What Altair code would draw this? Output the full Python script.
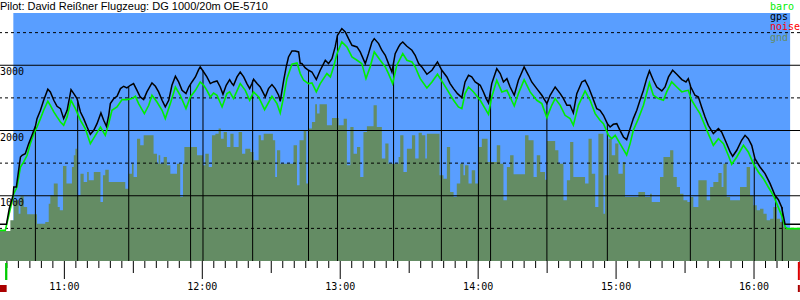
import altair as alt
import pandas as pd

# ---------------- data (time = minutes after midnight, altitude in m) ----------------
gps_time = [632.0, 634.8, 636.0, 637.7, 638.0, 639.1, 640.1, 640.9, 641.6, 643.0, 644.5, 645.9, 647.4, 648.1, 649.6,
            651.0, 652.8, 653.9, 655.4, 656.8, 658.3, 659.7, 661.2, 662.9, 664.1, 665.5, 667.0, 668.4, 669.9, 671.3,
            672.8, 674.2, 675.9, 677.1, 678.3, 679.3, 680.0, 681.5, 682.9, 684.4, 685.8, 687.2, 688.7, 690.1, 691.6,
            693.0, 694.5, 695.9, 698.1, 699.6, 701.0, 702.5, 703.9, 705.4, 706.8, 708.3, 709.7, 711.2, 712.9, 714.1,
            715.5, 717.0, 718.4,
            719.1, 720.6, 722.0, 723.5, 724.9, 726.4, 727.8, 729.0, 730.4, 731.9, 732.9, 733.6, 735.1, 736.5, 738.0,
            739.4, 740.6, 741.6, 742.3, 743.8, 745.2, 747.4, 748.8, 750.3, 751.7, 753.2, 753.9, 755.4, 756.5, 757.5,
            759.0, 760.4, 761.9, 762.6, 763.3, 764.8, 766.2, 767.7, 769.6, 771.3, 773.5, 774.9, 776.4, 777.8, 778.8,
            780.7, 782.2, 783.6, 785.1, 787.3, 788.7, 790.9, 792.3, 793.8, 794.8, 796.7, 798.1, 799.6, 801.0, 802.5,
            803.9, 805.4,
            806.1, 807.2, 809.0, 811.2, 812.6, 814.1, 815.5, 817.7, 819.9, 822.3, 824.2, 826.4, 827.8, 829.3, 831.0,
            832.9, 834.3, 835.8, 837.2, 838.7, 840.9, 842.3, 843.5, 844.5, 845.9, 848.1, 849.6, 851.0, 852.5, 853.9,
            855.7, 857.5, 860.0, 861.9, 863.3, 865.5, 867.7, 869.9, 871.3, 873.5, 875.7, 877.1, 878.6, 880.0, 881.4,
            882.9, 885.1, 886.5, 888.0, 889.4, 891.6, 893.0,
            894.5, 896.2, 897.4, 898.8, 900.3, 901.7, 903.2, 904.6, 906.1, 907.5, 909.0, 910.4, 911.9, 913.3, 914.5,
            916.2, 917.7, 919.9, 921.3, 922.8, 924.6, 926.4, 928.6, 930.4, 931.4, 932.5, 934.3, 935.8, 937.2, 938.7,
            940.1, 942.3, 944.5, 945.9, 947.8, 949.6, 950.7, 952.5, 954.6, 956.1, 957.5, 959.0, 960.4, 962.6, 964.8,
            967.0, 969.1, 970.6, 972.0, 973.5, 980.0]
gps_alt = [562, 562, 800, 1007, 1134, 1134, 1390, 1594, 1620, 1645, 1799, 1926, 2064, 2182, 2310,
           2463, 2632, 2591, 2463, 2371, 2335, 2182, 2310, 2627, 2565, 2489, 2284, 2182, 2054, 1942,
           2003, 2105, 2269, 2156, 2064, 2233, 2412, 2489, 2524, 2642, 2678, 2652, 2693, 2719, 2616,
           2514, 2473, 2591, 2729, 2678, 2591, 2463, 2361, 2463, 2693, 2831, 2744, 2616, 2565, 2667,
           2744, 2821, 2933,
           2974, 2897, 2821, 2719, 2744, 2759, 2667, 2555, 2693, 2780, 2719, 2693, 2821, 2897, 2821,
           2719, 2642, 2719, 2785, 2719, 2667, 2514, 2642, 2703, 2642, 2540, 2448, 2770, 2974, 3127,
           3219, 3219, 3204, 3025, 3025, 2959, 2923, 2897, 2780, 2923, 3076, 3025, 3102, 3281, 3459,
           3562, 3511, 3408, 3306, 3281, 3204, 3025, 3178, 3357, 3408, 3332, 3230, 3153, 3025, 2897,
           3178, 3281,
           3322, 3357, 3291, 3230, 3153, 3025, 2974, 2862, 2923, 3051, 2923, 2821, 2719, 2642, 2565,
           2504, 2744, 2846, 2821, 2744, 2693, 2591, 2489, 2422, 2719, 2948, 2872, 2744, 2795, 2667,
           2540, 2770, 2974, 2846, 2744, 2642, 2540, 2412, 2540, 2667, 2565, 2489, 2386, 2386, 2269,
           2565, 2744, 2770, 2667, 2540, 2335, 2310,
           2233, 2105, 2054, 2095, 2105, 2003, 1901, 1860, 2029, 2182, 2310, 2463, 2616, 2795, 2913,
           2770, 2667, 2606, 2667, 2821, 2923, 2862, 2780, 2744, 2795, 2667, 2540, 2514, 2361, 2208,
           2080, 1952, 2029, 1978, 1824, 1671, 1605, 1697, 1850, 1926, 1875, 1773, 1569, 1441, 1339,
           1186, 1007, 940, 828, 562, 562]

baro_time = [632.0, 634.3, 636.5, 638.0, 639.4, 640.9, 642.3, 643.8, 645.2, 646.7, 648.1, 649.6, 651.0, 652.8, 653.9,
             655.4, 656.8, 658.3, 659.7, 661.2, 662.9, 664.8, 667.0, 669.1, 671.3, 673.5, 675.7, 677.8, 679.3, 680.7,
             682.9, 685.1, 687.2, 689.4, 690.9, 692.3, 694.8, 696.7, 698.1, 700.3, 702.5, 703.9, 706.1, 708.3, 710.4,
             712.9, 714.8, 717.0, 719.1,
             720.6, 722.0, 723.5, 724.9, 726.4, 728.6, 730.7, 731.9, 733.6, 736.5, 738.7, 740.6, 742.3, 744.5, 747.1,
             750.3, 752.5, 753.9, 755.4, 756.8, 759.0, 761.2, 762.6, 764.1, 766.2, 767.7, 769.6, 771.3, 774.2, 775.7,
             777.1, 778.6, 780.7, 782.9, 785.1, 787.3, 789.4, 791.2, 793.0, 794.8, 797.4, 799.6, 801.0, 802.8, 804.6,
             806.1,
             807.2, 809.0, 811.2, 812.6, 814.8, 817.7, 819.9, 822.3, 824.9, 827.1, 829.3, 831.4, 832.9, 834.3, 835.8,
             838.0, 840.9, 844.5, 845.9, 848.1, 850.3, 852.5, 855.7, 857.5, 860.0, 862.6, 865.5, 867.7, 869.9, 872.0,
             873.5, 875.7, 877.8, 880.0, 881.4, 883.6, 886.5, 888.7, 890.9, 893.0,
             894.5, 896.7, 898.1, 899.6, 901.7, 904.6, 906.1, 907.5, 909.7, 911.9, 914.5, 916.2, 918.4, 920.6, 922.0,
             924.2, 926.4, 928.6, 930.0, 931.4, 932.9, 935.1, 936.5, 938.0, 940.1, 942.3, 944.5, 946.7, 948.8, 950.3,
             952.5, 955.4, 957.5, 959.7, 961.9, 964.1, 966.2, 968.4, 969.9, 972.0, 973.5, 974.2, 980.0]
baro_alt = [470, 470, 800, 1032, 1134, 1441, 1518, 1620, 1799, 1952, 2054, 2182, 2310, 2448, 2386,
            2284, 2208, 2131, 2080, 2208, 2463, 2335, 2156, 2029, 1799, 1926, 2054, 1926, 2105, 2310,
            2361, 2473, 2473, 2489, 2524, 2412, 2259, 2386, 2540, 2437, 2310, 2182, 2412, 2667, 2540,
            2335, 2514, 2616, 2744,
            2693, 2616, 2514, 2575, 2540, 2361, 2565, 2591, 2489, 2719, 2616, 2463, 2591, 2514, 2320,
            2524, 2412, 2269, 2514, 2795, 3015, 3035, 2872, 2770, 2719, 2729, 2591, 2719, 2872, 2821,
            2974, 3178, 3357, 3281, 3127, 3076, 3025, 2795, 2974, 3204, 3076, 2974, 2872, 2719, 3000,
            3102,
            3178, 3076, 3051, 2974, 2795, 2652, 2744, 2862, 2719, 2591, 2463, 2361, 2335, 2565, 2667,
            2591, 2463, 2248, 2514, 2770, 2591, 2616, 2376, 2565, 2780, 2591, 2463, 2412, 2197, 2386,
            2489, 2386, 2233, 2182, 2080, 2386, 2606, 2463, 2259, 2156,
            2105, 1926, 1875, 1926, 1799, 1625, 1799, 2003, 2182, 2386, 2729, 2540, 2489, 2463, 2591,
            2744, 2667, 2591, 2606, 2616, 2463, 2335, 2259, 2131, 1952, 1773, 1875, 1799, 1620, 1482,
            1594, 1773, 1671, 1492, 1364, 1262, 1134, 1007, 879, 700, 531, 496, 496]

gnd_time = [632.0, 636.5, 638.0, 640.1, 640.9, 642.3, 643.8, 648.1, 651.7, 653.2, 653.9, 655.4, 657.1, 658.0, 659.4,
            660.9, 663.3, 664.1, 664.8, 665.5, 667.0, 668.4, 669.9, 670.6, 672.8, 675.7, 676.8, 677.8, 679.3, 686.5,
            688.0, 689.4, 690.1, 691.6, 693.0, 694.5, 698.8, 700.3, 701.0, 701.7, 703.2, 704.6, 706.1, 709.0, 710.4,
            711.6, 712.2, 717.7,
            719.1, 720.3, 721.3, 722.8, 724.2, 725.7, 727.1, 728.1, 729.3, 730.7, 732.2, 733.6, 735.8, 737.3, 738.7,
            740.9, 742.3, 744.5, 745.5, 746.7, 750.7, 751.7, 752.5, 753.9, 759.7, 761.2, 762.3, 764.1, 765.2, 766.2,
            767.7, 769.1, 769.9, 771.0, 774.2, 776.4, 779.3, 781.5, 782.9, 784.4, 785.8, 787.3, 788.7, 790.1, 791.6,
            794.5, 795.9, 798.1, 799.6, 801.0, 805.4,
            806.1, 807.5, 809.0, 811.2, 812.6, 814.1, 815.5, 817.0, 817.7, 823.2, 824.9, 826.4, 827.8, 829.3, 830.7,
            832.2, 833.6, 834.3, 835.8, 837.2, 838.7, 840.1, 841.6, 844.1, 848.1, 849.6, 851.0, 852.5, 853.9, 855.4,
            860.4, 861.9, 864.1, 865.5, 867.0, 869.1, 869.9, 873.5, 874.9, 877.1, 878.6, 880.0, 881.4, 886.5, 888.0,
            889.4, 890.9, 892.3,
            893.0, 894.5, 895.2, 896.7, 898.1, 899.6, 901.0, 902.9, 903.9, 909.7, 912.6, 914.8, 915.5, 919.1, 920.6,
            923.5, 924.9, 926.4, 927.8, 929.3, 931.0, 932.2, 933.6, 935.8, 939.4, 940.9, 942.3, 944.5, 945.9, 946.7,
            948.1, 949.6, 953.9, 956.8, 958.3, 959.7, 961.2, 962.6, 964.1, 965.5, 967.0, 968.4, 969.9, 971.3, 972.8,
            974.2, 980.0]
gnd_alt = [460, 623, 930, 726, 991, 828, 715, 572, 598, 879, 1007, 1186, 828, 777, 1456,
           1186, 1441, 1620, 1722, 1007, 1339, 1211, 1364, 1237, 1364, 904, 1313, 1400, 1211, 1109,
           1339, 1492, 1288, 1875, 1773, 1926, 1645, 1492, 1620, 1492, 1594, 1467, 1339, 1492, 981,
           1492, 1748, 1620,
           1620, 1467, 1645, 1441, 1926, 1952, 2029, 1875, 1978, 1748, 1952, 1748, 1978, 1645, 1722,
           1671, 1543, 1926, 1850, 1952, 1850, 1288, 1697, 1492, 1773, 1160, 1850, 2003, 1186, 2029,
           2131, 2402, 2259, 2402, 2080, 2192, 2080, 2182, 1467, 2054, 1645, 1748, 1288, 1978, 2064,
           2386, 2054, 1569, 1799, 1492, 1594,
           1926, 1364, 1722, 1926, 1569, 1967, 1926, 1569, 1952, 1313, 1262, 1748, 1058, 981, 1186,
           1492, 1313, 1467, 1186, 1390, 1186, 1748, 1875, 1518, 1773, 1492, 930, 1441, 1620, 1329,
           1926, 1850, 1288, 1620, 1364, 1247, 1840, 1697, 1492, 930, 1237, 1824, 1288, 1186, 1875,
           1339, 828, 1952,
           1952, 726, 1313, 1875, 1620, 1799, 1339, 1518, 981, 1058, 981, 1032, 904, 1288, 1594,
           1697, 1288, 1134, 1032, 930, 904, 981, 828, 1237, 930, 1134, 1211, 1349, 1134, 1492,
           981, 930, 1134, 1441, 1007, 853, 777, 802, 726, 623, 649, 828, 649, 598, 521,
           496, 496]

# vertical markers (time, top altitude)
mark_time = [647.4, 665.8, 688.0, 714.9, 720.3, 741.9, 766.2, 778.8, 803.2, 824.0, 840.1, 845.4, 869.9,
             896.2, 932.3, 960.1, 969.4, 972.3]
mark_alt = [2064, 2463, 2667, 2719, 2923, 2770, 2923, 3459, 3050, 2934, 2720, 2590, 2412,
            2104, 2693, 1567, 979, 826]

flight_start = 637.8   # start of the blue (flight) background
flight_end = 975.7
sky_top = 3800

dash_levels = [500, 1500, 2500, 3500]
solid_levels = [1000, 2000, 3000]
alt_labels = ["1000", "2000", "3000"]

hour_ticks = [660, 720, 780, 840, 900, 960]
hour_labels = ["11:00", "12:00", "13:00", "14:00", "15:00", "16:00"]
half_ticks = [690, 750, 810, 870, 930]
minute_ticks = [t for t in range(635, 981, 5) if t % 30 != 0]

title_text = "Pilot: David Reißner Flugzeug: DG 1000/20m OE-5710"
legend_names = ["baro", "gps", "noise", "gnd"]
legend_colors = ["#00ee00", "#000000", "#ff0000", "#648c64"]

start_marker_time = 634.7
end_marker_time = 979.5

# ---------------- chart ----------------
X_DOMAIN = [632, 980]
xs = alt.Scale(domain=X_DOMAIN, nice=False, zero=False)
ys = alt.Scale(domain=[0, 4000], nice=False, zero=False)

BLUE = "#599eff"
GND = "#648c64"
MONO = "DejaVu Sans Mono"
PLOT_H = 261


def X(field):
    return alt.X(field, type="quantitative", scale=xs, axis=None)


def Y(field):
    return alt.Y(field, type="quantitative", scale=ys, axis=None)


gps_df = pd.DataFrame({"t": gps_time, "alt": gps_alt})
baro_df = pd.DataFrame({"t": baro_time, "alt": baro_alt})
gnd_df = pd.DataFrame({"t": gnd_time, "alt": gnd_alt})
mark_df = pd.DataFrame({"t": mark_time, "alt": mark_alt, "base": [0] * len(mark_time)})
sky_df = pd.DataFrame({"t0": [flight_start], "t1": [flight_end], "a0": [0], "a1": [sky_top]})
dash_df = pd.DataFrame({"alt": dash_levels})
solid_df = pd.DataFrame({"alt": solid_levels, "label": alt_labels, "t": [X_DOMAIN[0]] * 3})

sky = alt.Chart(sky_df).mark_rect(color=BLUE).encode(x=X("t0"), x2="t1", y=Y("a0"), y2="a1")

gnd = alt.Chart(gnd_df).mark_area(interpolate="step-after", color=GND, opacity=1).encode(
    x=X("t"), y=Y("alt"))

dash = alt.Chart(dash_df).mark_rule(color="black", strokeWidth=1, strokeDash=[3, 3]).encode(y=Y("alt"))
solid = alt.Chart(solid_df).mark_rule(color="black", strokeWidth=1).encode(y=Y("alt"))

marks = alt.Chart(mark_df).mark_rule(color="black", strokeWidth=1).encode(
    x=X("t"), y=Y("alt"), y2="base")

ylabels = alt.Chart(solid_df).mark_text(
    align="left", baseline="alphabetic", dy=10, font=MONO, fontSize=10, color="black"
).encode(x=X("t"), y=Y("alt"), text="label:N")

baro = alt.Chart(baro_df).mark_line(color=legend_colors[0], strokeWidth=1.6).encode(x=X("t"), y=Y("alt"))
gps = alt.Chart(gps_df).mark_line(color="black", strokeWidth=1.5).encode(x=X("t"), y=Y("alt"))

# time axis drawn as ticks + labels below the plot
tick_layers = []
for vals, length in ((minute_ticks, 7), (half_ticks, 12), (hour_ticks, 18)):
    tick_layers.append(
        alt.Chart(pd.DataFrame({"t": vals})).mark_rule(color="black", strokeWidth=1).encode(
            x=X("t"), y=alt.value(PLOT_H), y2=alt.value(PLOT_H + length))
    )
xlabels = alt.Chart(pd.DataFrame({"t": hour_ticks, "label": hour_labels})).mark_text(
    align="center", baseline="alphabetic", font=MONO, fontSize=10, color="black"
).encode(x=X("t"), y=alt.value(290), text="label:N")

title = alt.Chart(pd.DataFrame({"txt": [title_text]})).mark_text(
    align="left", baseline="alphabetic", font="Liberation Sans", fontSize=11, color="black"
).encode(x=alt.value(0), y=alt.value(10), text="txt:N")

legend_layers = []
for i, (name, col) in enumerate(zip(legend_names, legend_colors)):
    legend_layers.append(
        alt.Chart(pd.DataFrame({"txt": [name]})).mark_text(
            align="left", baseline="alphabetic", font=MONO, fontSize=10, color=col
        ).encode(x=alt.value(770), y=alt.value(10 + 10.2 * i), text="txt:N")
    )

start_df = pd.DataFrame({"t": [start_marker_time]})
end_df = pd.DataFrame({"t": [end_marker_time]})
start_bar = alt.Chart(start_df).mark_rule(color="#00cc00", strokeWidth=2.3).encode(
    x=X("t"), y=alt.value(263), y2=alt.value(280))
start_sq = alt.Chart(pd.DataFrame({"t0": [X_DOMAIN[0]], "t1": [start_marker_time + 0.2]})).mark_rect(
    color="#aa0000").encode(x=X("t0"), x2="t1", y=alt.value(285), y2=alt.value(292))
end_bar = alt.Chart(end_df).mark_rule(color="#dd0000", strokeWidth=2).encode(
    x=X("t"), y=alt.value(262), y2=alt.value(280))
end_sq = alt.Chart(end_df).mark_rule(color="#aa0000", strokeWidth=2).encode(
    x=X("t"), y=alt.value(285), y2=alt.value(292))

chart = alt.layer(
    sky, gnd, dash, solid, marks, ylabels, baro, gps, *tick_layers, xlabels, title, *legend_layers,
    start_bar, start_sq, end_bar, end_sq,
).properties(
    width=800, height=PLOT_H,
    padding={"left": 0, "top": 0, "right": 0, "bottom": 39},
    autosize=alt.AutoSizeParams(type="none"),
    background="white",
).configure_view(stroke=None)

chart.save("out.html", embed_options={"renderer": "svg", "actions": False})
